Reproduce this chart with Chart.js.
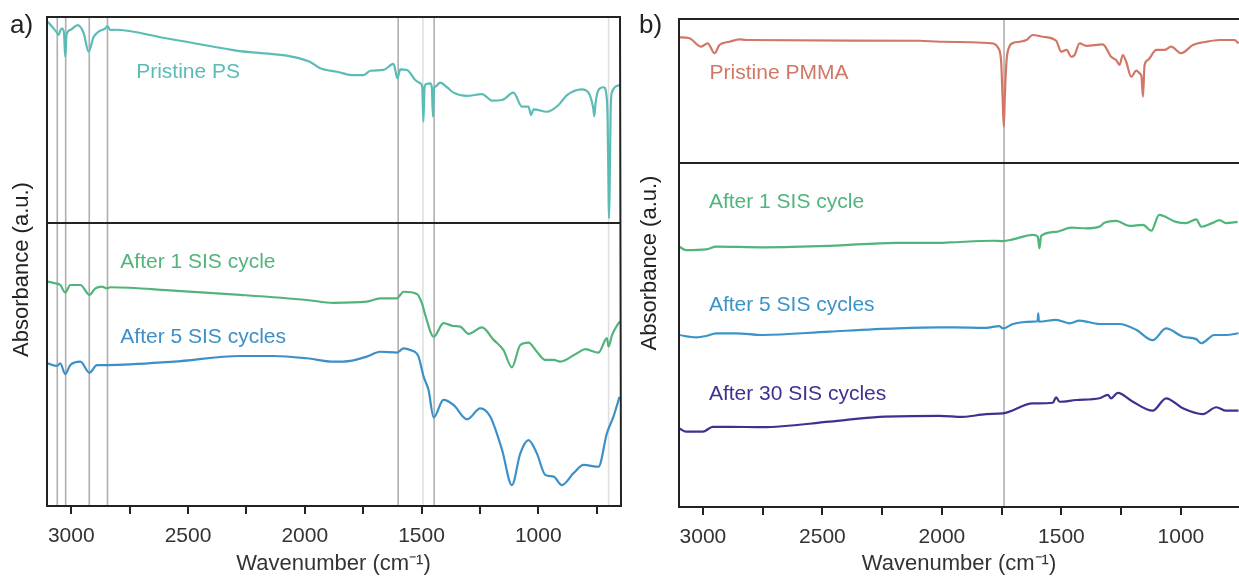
<!DOCTYPE html>
<html>
<head>
<meta charset="utf-8">
<script src="https://cdn.jsdelivr.net/npm/chart.js@4.4.1/dist/chart.umd.min.js"></script>
<style>
  html, body { margin: 0; padding: 0; background: #fff; }
  body { width: 1239px; height: 577px; position: relative; overflow: hidden; font-family: "Liberation Sans", Arial, sans-serif; }
  .panel { position: absolute; top: 0; }
  .tag { position: absolute; top: 9px; font-size: 26px; color: #222; line-height: 30px; }
</style>
</head>
<body>
<div class="panel" style="left:0"><canvas id="chartA" width="630" height="577"></canvas></div>
<div class="panel" style="left:630px"><canvas id="chartB" width="609" height="577"></canvas></div>
<div class="tag" style="left:10px">a)</div>
<div class="tag" style="left:639px">b)</div>
<script>
// x ticks (cm-1), labelled every 500
var wnTicks = [750, 1000, 1250, 1500, 1750, 2000, 2250, 2500, 2750, 3000];

// ---- panel a: polystyrene ----
var psWn  = [3100, 3076, 3062, 3054, 3047, 3040, 3031, 3026, 3020, 3004, 2973, 2947, 2926, 2904, 2883, 2854, 2845, 2833, 2812, 2600, 2300, 1981, 1934, 1862, 1798, 1748, 1719, 1663, 1620, 1603, 1591, 1562, 1527, 1505, 1497, 1492, 1487, 1480, 1463, 1456, 1451, 1446, 1441, 1420, 1391, 1363, 1305, 1241, 1198, 1155, 1106, 1070, 1042, 1031, 1020, 963, 913, 877, 813, 785, 765, 760, 755, 742, 720, 708, 703, 699, 697, 694, 690, 684, 649];
var psAbs = [0.977, 0.945, 0.925, 0.913, 0.935, 0.945, 0.92, 0.807, 0.915, 0.937, 0.961, 0.922, 0.832, 0.904, 0.929, 0.945, 0.956, 0.937, 0.938, 0.898, 0.838, 0.784, 0.751, 0.734, 0.718, 0.718, 0.739, 0.743, 0.772, 0.702, 0.746, 0.743, 0.694, 0.678, 0.66, 0.492, 0.66, 0.675, 0.678, 0.66, 0.516, 0.655, 0.662, 0.681, 0.659, 0.633, 0.617, 0.626, 0.594, 0.597, 0.633, 0.565, 0.565, 0.524, 0.552, 0.540, 0.573, 0.621, 0.649, 0.633, 0.56, 0.519, 0.58, 0.646, 0.659, 0.62, 0.5, 0.15, 0.023, 0.2, 0.55, 0.637, 0.670];

var ps1Wn  = [3100, 3069, 3047, 3026, 3004, 2961, 2922, 2897, 2869, 2847, 2833, 2562, 2276, 1991, 1877, 1734, 1677, 1605, 1591, 1577, 1520, 1498, 1484, 1448, 1406, 1363, 1334, 1298, 1241, 1191, 1149, 1113, 1077, 1042, 1006, 970, 934, 906, 834, 799, 742, 706, 699, 684, 656, 650];
var ps1Abs = [0.793, 0.787, 0.781, 0.754, 0.781, 0.781, 0.746, 0.769, 0.775, 0.769, 0.773, 0.761, 0.746, 0.728, 0.718, 0.722, 0.734, 0.734, 0.746, 0.757, 0.749, 0.716, 0.675, 0.598, 0.646, 0.636, 0.634, 0.608, 0.631, 0.587, 0.551, 0.490, 0.569, 0.577, 0.545, 0.516, 0.516, 0.510, 0.540, 0.554, 0.542, 0.593, 0.563, 0.604, 0.646, 0.652];

var ps5Wn  = [3100, 3061, 3047, 3026, 3004, 2961, 2922, 2890, 2847, 2562, 2276, 2134, 1991, 1877, 1805, 1734, 1677, 1605, 1577, 1548, 1513, 1491, 1470, 1448, 1406, 1363, 1305, 1248, 1206, 1155, 1113, 1077, 1042, 1006, 970, 934, 899, 849, 806, 742, 706, 678, 652];
var ps5Abs = [0.504, 0.495, 0.504, 0.466, 0.498, 0.510, 0.471, 0.498, 0.498, 0.510, 0.530, 0.530, 0.522, 0.510, 0.513, 0.528, 0.545, 0.542, 0.557, 0.551, 0.528, 0.457, 0.410, 0.313, 0.375, 0.357, 0.306, 0.345, 0.316, 0.198, 0.074, 0.186, 0.233, 0.186, 0.110, 0.104, 0.074, 0.116, 0.145, 0.139, 0.257, 0.316, 0.386];

var psMarks = [3060, 3024, 2923, 2845, 1600, 1494, 1446, 699];

// ---- panel b: PMMA ----
var pmWn  = [3100, 3056, 3007, 2980, 2951, 2931, 2889, 2847, 2819, 2094, 2010, 1790, 1765, 1752, 1746, 1741, 1737, 1730, 1720, 1700, 1675, 1647, 1620, 1578, 1522, 1501, 1478, 1459, 1445, 1424, 1396, 1327, 1292, 1271, 1257, 1243, 1229, 1208, 1187, 1173, 1165, 1159, 1152, 1138, 1103, 1069, 1041, 999, 950, 894, 839, 776, 759];
var pmAbs = [0.873, 0.866, 0.808, 0.831, 0.762, 0.819, 0.842, 0.859, 0.854, 0.849, 0.842, 0.831, 0.80, 0.70, 0.45, 0.252, 0.45, 0.70, 0.80, 0.835, 0.842, 0.854, 0.889, 0.877, 0.849, 0.773, 0.785, 0.738, 0.750, 0.831, 0.813, 0.824, 0.738, 0.715, 0.681, 0.750, 0.703, 0.599, 0.641, 0.623, 0.60, 0.460, 0.68, 0.715, 0.785, 0.785, 0.808, 0.762, 0.819, 0.842, 0.854, 0.854, 0.831];

var pm1Wn  = [3100, 3070, 2986, 2944, 2751, 2470, 2191, 2010, 1968, 1787, 1745, 1703, 1620, 1599, 1592, 1585, 1522, 1459, 1396, 1341, 1320, 1271, 1215, 1159, 1124, 1091, 1021, 979, 936, 915, 867, 839, 811, 763];
var pm1Abs = [0.757, 0.747, 0.749, 0.757, 0.755, 0.759, 0.768, 0.768, 0.769, 0.774, 0.773, 0.778, 0.791, 0.786, 0.752, 0.788, 0.800, 0.812, 0.810, 0.815, 0.826, 0.832, 0.817, 0.820, 0.803, 0.849, 0.829, 0.825, 0.836, 0.815, 0.826, 0.834, 0.825, 0.829];

var pm5Wn  = [3100, 3028, 2986, 2944, 2861, 2751, 2470, 2191, 2010, 1954, 1815, 1759, 1745, 1703, 1620, 1600, 1597, 1594, 1522, 1466, 1424, 1341, 1257, 1187, 1118, 1062, 992, 936, 915, 860, 811, 759];
var pm5Abs = [0.500, 0.493, 0.497, 0.505, 0.505, 0.500, 0.510, 0.519, 0.522, 0.522, 0.521, 0.526, 0.519, 0.532, 0.539, 0.540, 0.563, 0.539, 0.544, 0.534, 0.542, 0.532, 0.532, 0.515, 0.485, 0.519, 0.495, 0.488, 0.476, 0.500, 0.500, 0.505];

var pm30Wn  = [3100, 3070, 3000, 2959, 2889, 2751, 2470, 2261, 2010, 1913, 1815, 1745, 1620, 1536, 1522, 1508, 1438, 1341, 1306, 1292, 1264, 1201, 1118, 1062, 992, 908, 852, 811, 759];
var pm30Abs = [0.229, 0.219, 0.219, 0.233, 0.233, 0.232, 0.248, 0.262, 0.265, 0.262, 0.270, 0.272, 0.301, 0.303, 0.319, 0.306, 0.311, 0.316, 0.326, 0.316, 0.332, 0.306, 0.280, 0.316, 0.287, 0.270, 0.290, 0.280, 0.280];

var pmMarks = [1740];

function pts(wn, abs) {
    return wn.map(function(w, i) { return { x: w, y: abs[i] }; });
}

function series(label, wn, abs, color, axis, at) {
    return {
        label: label,
        data: pts(wn, abs),
        yAxisID: axis,
        borderColor: color,
        borderWidth: 2.2,
        pointRadius: 0,
        cubicInterpolationMode: 'monotone',
        labelAt: at
    };
}

var markerPlugin = {
    id: 'markers',
    beforeDatasetsDraw: function(chart, args, opts) {
        var ctx = chart.ctx, a = chart.chartArea, x = chart.scales.x;
        ctx.save();
        opts.values.forEach(function(v, i) {
            var px = x.getPixelForValue(v);
            ctx.strokeStyle = opts.faint.indexOf(i) >= 0 ? 'rgba(150,150,150,0.3)' : 'rgba(110,110,110,0.55)';
            ctx.lineWidth = 1.6;
            ctx.beginPath();
            ctx.moveTo(px, a.top);
            ctx.lineTo(px, a.bottom);
            ctx.stroke();
        });
        ctx.restore();
    }
};

var framePlugin = {
    id: 'frame',
    afterDatasetsDraw: function(chart, args, opts) {
        var ctx = chart.ctx, a = chart.chartArea;
        var split = chart.scales.yTop.bottom;
        ctx.save();
        ctx.strokeStyle = '#222';
        ctx.lineWidth = 2;
        ctx.beginPath();
        ctx.moveTo(a.right + 1, a.top);
        ctx.lineTo(a.left, a.top);
        ctx.lineTo(a.left, a.bottom);
        ctx.lineTo(a.right + 1, a.bottom);
        if (opts.right) {
            ctx.lineTo(a.right, a.top);
        }
        ctx.moveTo(a.left, split);
        ctx.lineTo(a.right + 1, split);
        ctx.stroke();

        // series names
        ctx.font = '21px "Liberation Sans", Arial, sans-serif';
        ctx.textAlign = 'left';
        ctx.textBaseline = 'middle';
        chart.data.datasets.forEach(function(ds) {
            var y = chart.scales[ds.yAxisID];
            ctx.fillStyle = ds.borderColor;
            ctx.fillText(ds.label, chart.scales.x.getPixelForValue(ds.labelAt[0]), y.getPixelForValue(ds.labelAt[1]));
        });

        // y title spans both stacked axes
        ctx.fillStyle = '#222';
        ctx.font = '22px "Liberation Sans", Arial, sans-serif';
        ctx.textAlign = 'center';
        ctx.translate(opts.titleX, (a.top + a.bottom) / 2 + opts.titleShift);
        ctx.rotate(-Math.PI / 2);
        ctx.fillText('Absorbance (a.u.)', 0, 0);
        ctx.restore();
    }
};

function makePanel(id, datasets, xMin, xMax, topWeight, lowWeight, axisW, axisH, pad, marks, faint, frameOpts) {
    return new Chart(document.getElementById(id), {
        type: 'line',
        data: { datasets: datasets },
        options: {
            animation: false,
            responsive: false,
            layout: { padding: pad },
            plugins: {
                legend: { display: false },
                tooltip: { enabled: false },
                markers: { values: marks, faint: faint },
                frame: frameOpts
            },
            scales: {
                x: {
                    type: 'linear',
                    reverse: true,
                    min: xMin,
                    max: xMax,
                    afterBuildTicks: function(scale) {
                        scale.ticks = wnTicks.filter(function(v) { return v >= xMin && v <= xMax; })
                            .map(function(v) { return { value: v }; });
                    },
                    ticks: {
                        autoSkip: false,
                        maxRotation: 0,
                        padding: 10,
                        color: '#333',
                        font: { family: '"Liberation Sans", Arial, sans-serif', size: 21 },
                        callback: function(value) {
                            return value % 500 === 0 ? String(value) : '';
                        }
                    },
                    grid: { drawOnChartArea: false, drawTicks: true, tickLength: 8, color: '#222', lineWidth: 2 },
                    border: { display: false },
                    title: {
                        display: true,
                        text: 'Wavenumber (cm\u207B\u00B9)',
                        color: '#333',
                        font: { family: '"Liberation Sans", Arial, sans-serif', size: 22 },
                        padding: { top: 0, bottom: 0 }
                    },
                    afterFit: function(scale) { scale.height = axisH; }
                },
                yLow: {
                    type: 'linear', position: 'left', stack: 'abs', stackWeight: lowWeight,
                    min: 0, max: 1,
                    ticks: { display: false }, grid: { display: false }, border: { display: false },
                    afterFit: function(scale) { scale.width = axisW; }
                },
                yTop: {
                    type: 'linear', position: 'left', stack: 'abs', stackWeight: topWeight,
                    min: 0, max: 1,
                    ticks: { display: false }, grid: { display: false }, border: { display: false },
                    afterFit: function(scale) { scale.width = axisW; }
                }
            }
        },
        plugins: [markerPlugin, framePlugin]
    });
}

var chartA = makePanel('chartA', [
    series('Pristine PS', psWn, psAbs, '#5bbcb6', 'yTop', [2722, 0.733]),
    series('After 1 SIS cycle', ps1Wn, ps1Abs, '#52b47b', 'yLow', [2790, 0.862]),
    series('After 5 SIS cycles', ps5Wn, ps5Abs, '#3d8fc7', 'yLow', [2790, 0.596])
], 650, 3104, 206, 283, 47, 71, { top: 17, right: 10, left: 0, bottom: 0 }, psMarks, [5, 7],
   { right: true, titleX: 22, titleShift: 8 });

var chartB = makePanel('chartB', [
    series('Pristine PMMA', pmWn, pmAbs, '#d27766', 'yTop', [2972, 0.622]),
    series('After 1 SIS cycle', pm1Wn, pm1Abs, '#4fb57a', 'yLow', [2975, 0.885]),
    series('After 5 SIS cycles', pm5Wn, pm5Abs, '#3a93c9', 'yLow', [2975, 0.587]),
    series('After 30 SIS cycles', pm30Wn, pm30Abs, '#40308f', 'yLow', [2975, 0.328])
], 757, 3100, 144, 344, 49, 70, { top: 19, right: 0, left: 0, bottom: 0 }, pmMarks, [],
   { right: false, titleX: 20, titleShift: 0 });
</script>
</body>
</html>
